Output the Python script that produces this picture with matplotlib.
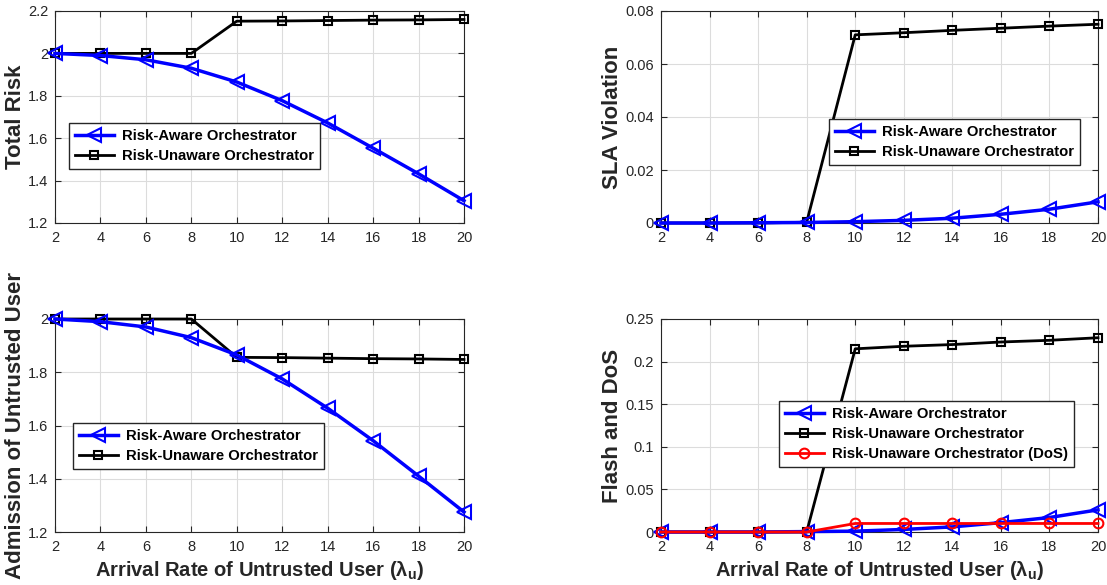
import matplotlib
matplotlib.use('Agg')
import matplotlib.pyplot as plt
from matplotlib.ticker import FormatStrFormatter

plt.rcParams['font.family'] = ['Liberation Sans', 'DejaVu Sans']
plt.rcParams['mathtext.fontset'] = 'custom'
plt.rcParams['mathtext.rm'] = 'Liberation Sans:bold'
plt.rcParams['mathtext.it'] = 'Liberation Sans:bold'
plt.rcParams['mathtext.bf'] = 'Liberation Sans:bold'

x = [2, 4, 6, 8, 10, 12, 14, 16, 18, 20]

risk_aware = [2.0, 1.99, 1.97, 1.93, 1.865, 1.777, 1.672, 1.553, 1.432, 1.305]
risk_unaware = [2.0, 2.0, 2.0, 2.0, 2.152, 2.153, 2.155, 2.157, 2.158, 2.16]

sla_aware = [0, 0, 0.0001, 0.0002, 0.0005, 0.001, 0.0018, 0.0033, 0.0052, 0.008]
sla_unaware = [0, 0, 0, 0.0003, 0.071, 0.0718, 0.0727, 0.0735, 0.0743, 0.075]

adm_aware = [2.0, 1.99, 1.97, 1.93, 1.865, 1.775, 1.665, 1.543, 1.41, 1.275]
adm_unaware = [2.0, 2.0, 2.0, 2.0, 1.856, 1.855, 1.853, 1.851, 1.85, 1.848]

flash_aware = [0, 0, 0, 0.0005, 0.001, 0.003, 0.006, 0.011, 0.017, 0.026]
flash_unaware = [0, 0, 0, 0, 0.215, 0.218, 0.22, 0.223, 0.225, 0.228]
dos_unaware = [0, 0, 0, 0, 0.01, 0.01, 0.01, 0.01, 0.01, 0.01]

W, H = 1107, 585
fig = plt.figure(figsize=(W / 100, H / 100), dpi=100)


def px_axes(l, t, r, b):
    return fig.add_axes([l / W, (H - b) / H, (r - l) / W, (b - t) / H])


def style(ax, ylim, yticks):
    ax.set_xlim(2, 20)
    ax.set_xticks(x)
    ax.set_ylim(*ylim)
    ax.set_yticks(yticks)
    ax.yaxis.set_major_formatter(FormatStrFormatter('%g'))
    ax.grid(True, color='#dcdcdc', linewidth=0.8)
    ax.set_axisbelow(True)
    ax.tick_params(direction='in', top=True, right=True, length=4,
                   labelsize=10.5, labelcolor='#262626', color='#262626')
    ax.tick_params(axis='x', pad=6)
    ax.tick_params(axis='y', pad=5)
    for s in ax.spines.values():
        s.set_color('#262626')
        s.set_linewidth(0.8)


def plot_pair(ax, a, u):
    ax.plot(x, a, color='#0000ff', linewidth=2.5, marker='<', markersize=10,
            markerfacecolor='none', markeredgewidth=1.5, label='Risk-Aware Orchestrator', clip_on=False, zorder=4)
    ax.plot(x, u, color='black', linewidth=2, marker='s', markersize=6,
            markerfacecolor='none', markeredgewidth=1.5, label='Risk-Unaware Orchestrator', clip_on=False, zorder=3)


def legend(ax, l, t):
    return ax.legend(loc='upper left', bbox_to_anchor=(l / W, (H - t) / H),
                     bbox_transform=fig.transFigure, fancybox=False, edgecolor='#262626',
                     framealpha=1, prop={'weight': 'bold', 'size': 10.7}, borderaxespad=0,
                     handlelength=2.6, borderpad=0.4, labelspacing=0.4, handletextpad=0.6)


xlabel = r'Arrival Rate of Untrusted User ($\lambda_u$)'
xlab = dict(fontsize=14.5, fontweight='bold', color='#262626', labelpad=3)
ylab = dict(fontsize=16, fontweight='bold', color='#262626', labelpad=1.5)

ax1 = px_axes(55, 11, 464, 223)
plot_pair(ax1, risk_aware, risk_unaware)
style(ax1, (1.2, 2.2), [1.2, 1.4, 1.6, 1.8, 2.0, 2.2])
ax1.set_ylabel('Total Risk', **ylab)
legend(ax1, 69, 123)

ax2 = px_axes(661, 11, 1098, 223)
plot_pair(ax2, sla_aware, sla_unaware)
style(ax2, (0, 0.08), [0, 0.02, 0.04, 0.06, 0.08])
ax2.set_ylabel('SLA Violation', **ylab)
legend(ax2, 829, 119)

ax3 = px_axes(55, 319, 464, 532)
plot_pair(ax3, adm_aware, adm_unaware)
style(ax3, (1.2, 2.0), [1.2, 1.4, 1.6, 1.8, 2.0])
ax3.set_ylabel('Admission of Untrusted User', **ylab)
ax3.set_xlabel(xlabel, **xlab)
legend(ax3, 73, 423)

ax4 = px_axes(661, 319, 1098, 532)
plot_pair(ax4, flash_aware, flash_unaware)
ax4.plot(x, dos_unaware, color='red', linewidth=2, marker='o', markersize=7,
         markerfacecolor='none', markeredgewidth=1.5, label='Risk-Unaware Orchestrator (DoS)', clip_on=False, zorder=5)
style(ax4, (0, 0.25), [0, 0.05, 0.1, 0.15, 0.2, 0.25])
ax4.set_ylabel('Flash and DoS', **ylab)
ax4.set_xlabel(xlabel, **xlab)
legend(ax4, 779, 401)

fig.savefig('out.png', dpi=100)
